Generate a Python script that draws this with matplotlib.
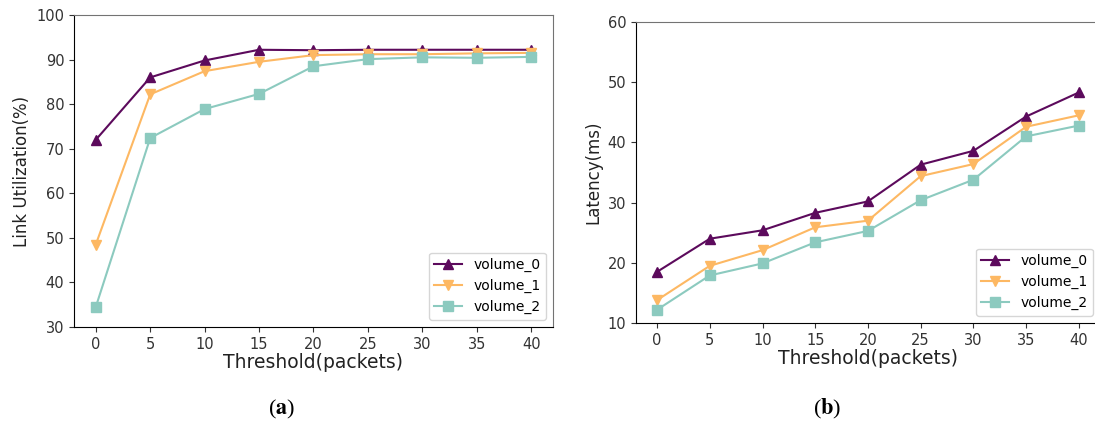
import matplotlib
matplotlib.use('Agg')
from matplotlib import pyplot as plt

thresholds = [0, 5, 10, 15, 20, 25, 30, 35, 40]
labels = ['volume_0', 'volume_1', 'volume_2']

util_0 = [72.0, 86.0, 89.8, 92.2, 92.1, 92.2, 92.2, 92.2, 92.2]
util_1 = [48.5, 82.2, 87.4, 89.5, 91.0, 91.2, 91.2, 91.4, 91.5]
util_2 = [34.5, 72.4, 78.9, 82.3, 88.5, 90.1, 90.5, 90.4, 90.6]

lat_0 = [18.5, 24.0, 25.4, 28.3, 30.2, 36.3, 38.6, 44.3, 48.3]
lat_1 = [13.8, 19.5, 22.1, 25.9, 27.0, 34.4, 36.4, 42.6, 44.5]
lat_2 = [12.2, 17.9, 19.9, 23.4, 25.3, 30.4, 33.8, 41.0, 42.8]

colours = ['#5c0a5c', '#fdb863', '#8ccabf']
markers = ['^', 'v', 's']

plt.rcParams['mathtext.fontset'] = 'stix'

fig = plt.figure(figsize=(10.95, 4.25), dpi=100)
ax1 = fig.add_axes([0.0676, 0.2306, 0.4374, 0.7341])
ax2 = fig.add_axes([0.5808, 0.24, 0.4237, 0.7082])

def draw(ax, series, ylabel, ylim):
    for i in range(3):
        ax.plot(thresholds, series[i], color=colours[i], marker=markers[i],
                markersize=7, linewidth=1.5, label=labels[i])
    ax.set_xticks(thresholds)
    ax.set_ylim(ylim)
    ax.set_xlabel('Threshold(packets)', fontsize=13.5, color='#222222', labelpad=1)
    ax.set_ylabel(ylabel, fontsize=12, color='#222222')
    ax.tick_params(labelsize=10.5, colors='#333333')
    for s in ['top', 'right']:
        ax.spines[s].set_color('0.45')
    ax.legend(loc='lower right', fontsize=10)

draw(ax1, [util_0, util_1, util_2], 'Link Utilization(%)', (30, 100))
draw(ax2, [lat_0, lat_1, lat_2], 'Latency(ms)', (10, 60))

fig.text(282 / 1095, 1 - 409 / 425, r'($\mathbf{a}$)', fontsize=16, ha='center', va='center',
         family='Liberation Serif')
fig.text(827 / 1095, 1 - 409 / 425, r'($\mathbf{b}$)', fontsize=16, ha='center', va='center',
         family='Liberation Serif')

fig.savefig('out.png', dpi=100)
